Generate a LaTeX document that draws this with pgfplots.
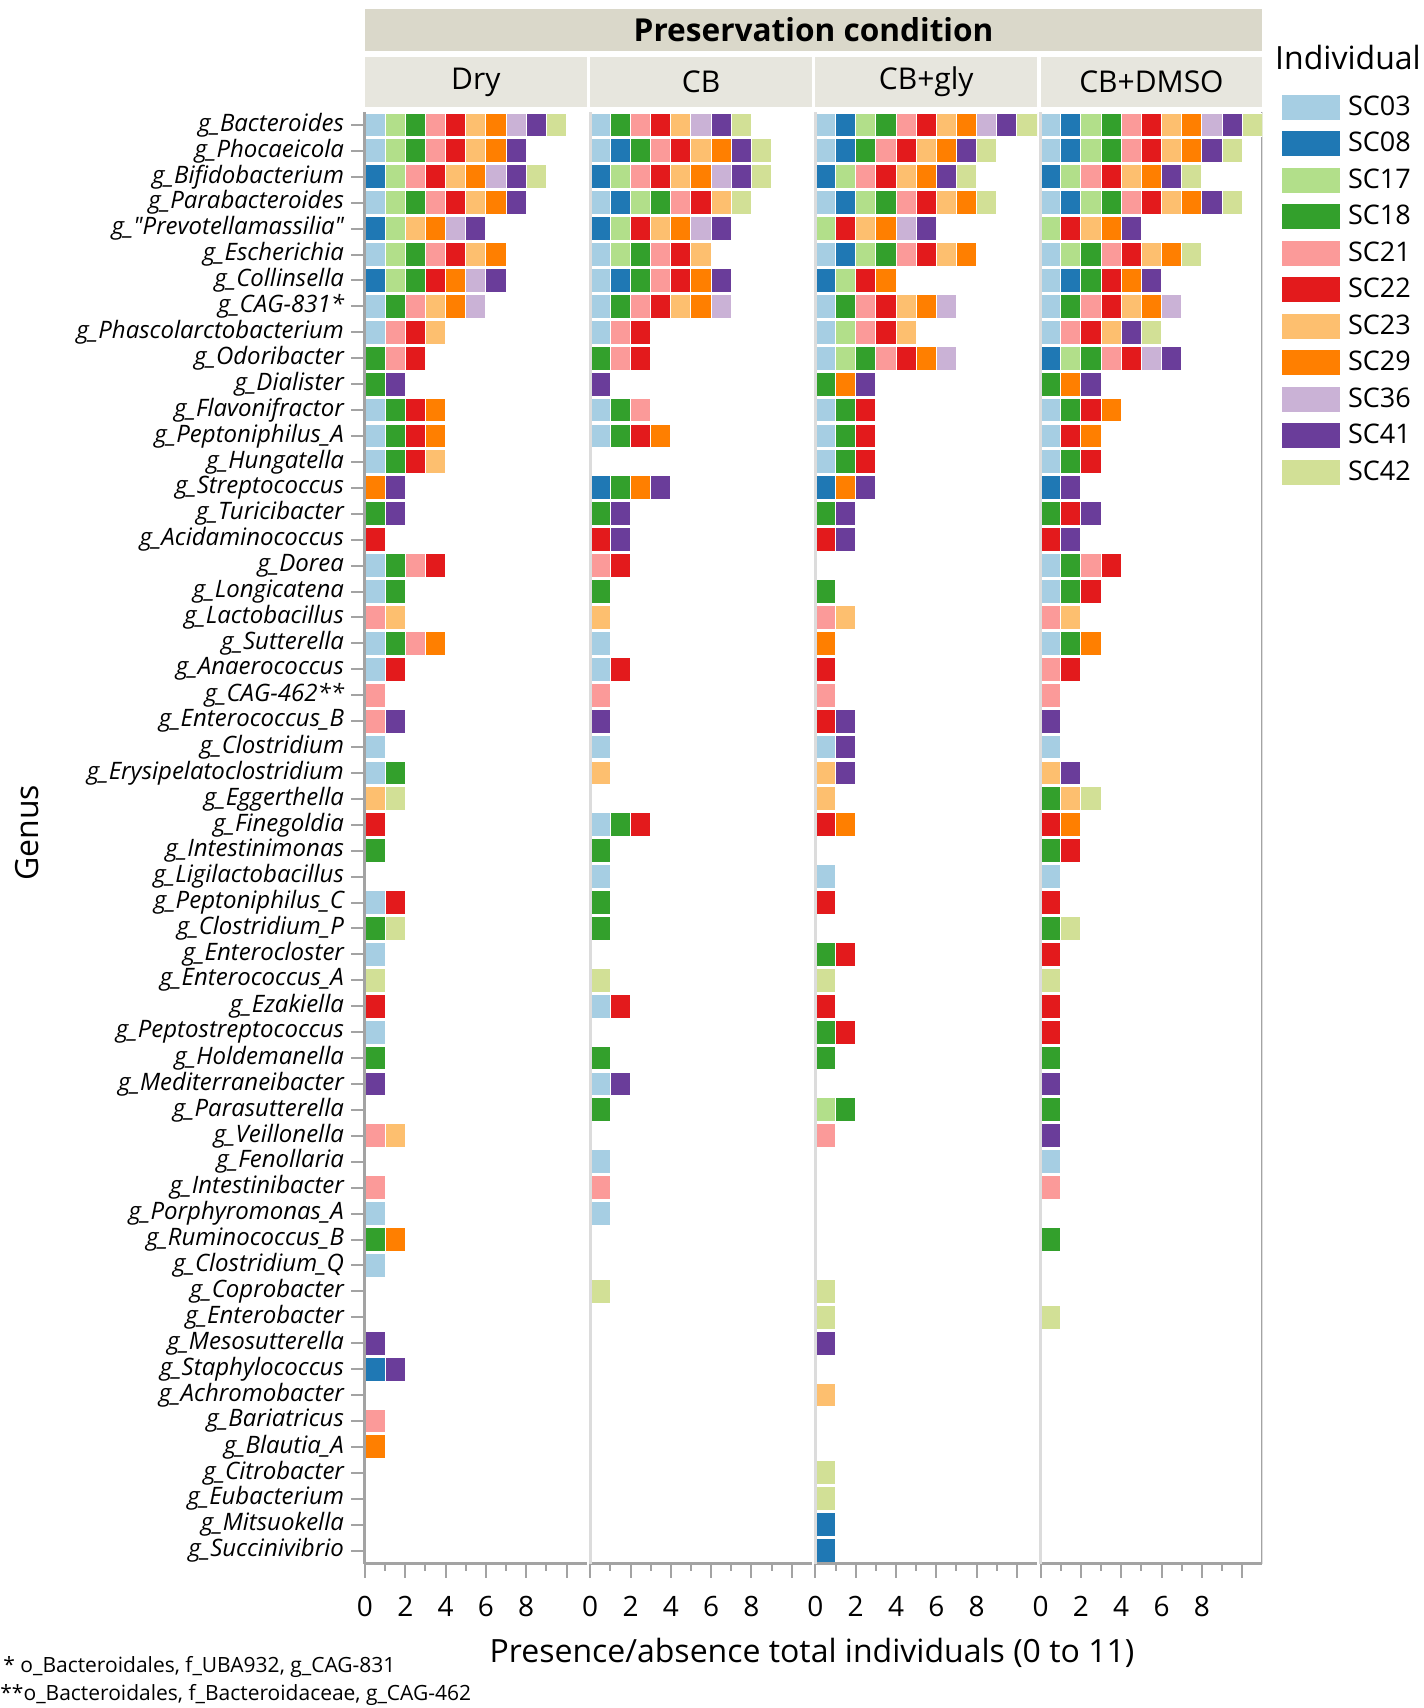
\documentclass[border=0pt]{standalone}
\usepackage{fontspec}
\setmainfont{Open Sans}[Ligatures=TeXOff]
\usepackage{pgfplots}
\usepackage{pgfplotstable}
\pgfplotsset{compat=1.18}

\definecolor{SC03}{HTML}{A6CEE3}
\definecolor{SC08}{HTML}{1F78B4}
\definecolor{SC17}{HTML}{B2DF8A}
\definecolor{SC18}{HTML}{33A02C}
\definecolor{SC21}{HTML}{FB9A99}
\definecolor{SC22}{HTML}{E31A1C}
\definecolor{SC23}{HTML}{FDBF6F}
\definecolor{SC29}{HTML}{FF7F00}
\definecolor{SC36}{HTML}{CAB2D6}
\definecolor{SC41}{HTML}{6A3D9A}
\definecolor{SC42}{HTML}{D2E096}
\definecolor{axgray}{HTML}{A3A3A3}
\definecolor{sepgray}{HTML}{DCDCDC}
\definecolor{band}{HTML}{DAD8CA}
\definecolor{phdr}{HTML}{E7E6DE}

\newcommand{\g}[1]{g\_#1}

% rows: y=56 is g_Bacteroides (top) ... y=1 is g_Succinivibrio (bottom)
\pgfplotstableread{
y SC03 SC08 SC17 SC18 SC21 SC22 SC23 SC29 SC36 SC41 SC42
56 1 0 1 1 1 1 1 1 1 1 1
55 1 0 1 1 1 1 1 1 0 1 0
54 0 1 1 0 1 1 1 1 1 1 1
53 1 0 1 1 1 1 1 1 0 1 0
52 0 1 1 0 0 0 1 1 1 1 0
51 1 0 1 1 1 1 1 1 0 0 0
50 0 1 1 1 0 1 0 1 1 1 0
49 1 0 0 1 1 0 1 1 1 0 0
48 1 0 0 0 1 1 1 0 0 0 0
47 0 0 0 1 1 1 0 0 0 0 0
46 0 0 0 1 0 0 0 0 0 1 0
45 1 0 0 1 0 1 0 1 0 0 0
44 1 0 0 1 0 1 0 1 0 0 0
43 1 0 0 1 0 1 1 0 0 0 0
42 0 0 0 0 0 0 0 1 0 1 0
41 0 0 0 1 0 0 0 0 0 1 0
40 0 0 0 0 0 1 0 0 0 0 0
39 1 0 0 1 1 1 0 0 0 0 0
38 1 0 0 1 0 0 0 0 0 0 0
37 0 0 0 0 1 0 1 0 0 0 0
36 1 0 0 1 1 0 0 1 0 0 0
35 1 0 0 0 0 1 0 0 0 0 0
34 0 0 0 0 1 0 0 0 0 0 0
33 0 0 0 0 1 0 0 0 0 1 0
32 1 0 0 0 0 0 0 0 0 0 0
31 1 0 0 1 0 0 0 0 0 0 0
30 0 0 0 0 0 0 1 0 0 0 1
29 0 0 0 0 0 1 0 0 0 0 0
28 0 0 0 1 0 0 0 0 0 0 0
27 0 0 0 0 0 0 0 0 0 0 0
26 1 0 0 0 0 1 0 0 0 0 0
25 0 0 0 1 0 0 0 0 0 0 1
24 1 0 0 0 0 0 0 0 0 0 0
23 0 0 0 0 0 0 0 0 0 0 1
22 0 0 0 0 0 1 0 0 0 0 0
21 1 0 0 0 0 0 0 0 0 0 0
20 0 0 0 1 0 0 0 0 0 0 0
19 0 0 0 0 0 0 0 0 0 1 0
18 0 0 0 0 0 0 0 0 0 0 0
17 0 0 0 0 1 0 1 0 0 0 0
16 0 0 0 0 0 0 0 0 0 0 0
15 0 0 0 0 1 0 0 0 0 0 0
14 1 0 0 0 0 0 0 0 0 0 0
13 0 0 0 1 0 0 0 1 0 0 0
12 1 0 0 0 0 0 0 0 0 0 0
11 0 0 0 0 0 0 0 0 0 0 0
10 0 0 0 0 0 0 0 0 0 0 0
9 0 0 0 0 0 0 0 0 0 1 0
8 0 1 0 0 0 0 0 0 0 1 0
7 0 0 0 0 0 0 0 0 0 0 0
6 0 0 0 0 1 0 0 0 0 0 0
5 0 0 0 0 0 0 0 1 0 0 0
4 0 0 0 0 0 0 0 0 0 0 0
3 0 0 0 0 0 0 0 0 0 0 0
2 0 0 0 0 0 0 0 0 0 0 0
1 0 0 0 0 0 0 0 0 0 0 0
}\dry

\pgfplotstableread{
y SC03 SC08 SC17 SC18 SC21 SC22 SC23 SC29 SC36 SC41 SC42
56 1 0 0 1 1 1 1 0 1 1 1
55 1 1 0 1 1 1 1 1 0 1 1
54 0 1 1 0 1 1 1 1 1 1 1
53 1 1 1 1 1 1 1 0 0 0 1
52 0 1 1 0 0 1 1 1 1 1 0
51 1 0 1 1 1 1 1 0 0 0 0
50 1 1 0 1 1 1 0 1 0 1 0
49 1 0 0 1 1 1 1 1 1 0 0
48 1 0 0 0 1 1 0 0 0 0 0
47 0 0 0 1 1 1 0 0 0 0 0
46 0 0 0 0 0 0 0 0 0 1 0
45 1 0 0 1 1 0 0 0 0 0 0
44 1 0 0 1 0 1 0 1 0 0 0
43 0 0 0 0 0 0 0 0 0 0 0
42 0 1 0 1 0 0 0 1 0 1 0
41 0 0 0 1 0 0 0 0 0 1 0
40 0 0 0 0 0 1 0 0 0 1 0
39 0 0 0 0 1 1 0 0 0 0 0
38 0 0 0 1 0 0 0 0 0 0 0
37 0 0 0 0 0 0 1 0 0 0 0
36 1 0 0 0 0 0 0 0 0 0 0
35 1 0 0 0 0 1 0 0 0 0 0
34 0 0 0 0 1 0 0 0 0 0 0
33 0 0 0 0 0 0 0 0 0 1 0
32 1 0 0 0 0 0 0 0 0 0 0
31 0 0 0 0 0 0 1 0 0 0 0
30 0 0 0 0 0 0 0 0 0 0 0
29 1 0 0 1 0 1 0 0 0 0 0
28 0 0 0 1 0 0 0 0 0 0 0
27 1 0 0 0 0 0 0 0 0 0 0
26 0 0 0 1 0 0 0 0 0 0 0
25 0 0 0 1 0 0 0 0 0 0 0
24 0 0 0 0 0 0 0 0 0 0 0
23 0 0 0 0 0 0 0 0 0 0 1
22 1 0 0 0 0 1 0 0 0 0 0
21 0 0 0 0 0 0 0 0 0 0 0
20 0 0 0 1 0 0 0 0 0 0 0
19 1 0 0 0 0 0 0 0 0 1 0
18 0 0 0 1 0 0 0 0 0 0 0
17 0 0 0 0 0 0 0 0 0 0 0
16 1 0 0 0 0 0 0 0 0 0 0
15 0 0 0 0 1 0 0 0 0 0 0
14 1 0 0 0 0 0 0 0 0 0 0
13 0 0 0 0 0 0 0 0 0 0 0
12 0 0 0 0 0 0 0 0 0 0 0
11 0 0 0 0 0 0 0 0 0 0 1
10 0 0 0 0 0 0 0 0 0 0 0
9 0 0 0 0 0 0 0 0 0 0 0
8 0 0 0 0 0 0 0 0 0 0 0
7 0 0 0 0 0 0 0 0 0 0 0
6 0 0 0 0 0 0 0 0 0 0 0
5 0 0 0 0 0 0 0 0 0 0 0
4 0 0 0 0 0 0 0 0 0 0 0
3 0 0 0 0 0 0 0 0 0 0 0
2 0 0 0 0 0 0 0 0 0 0 0
1 0 0 0 0 0 0 0 0 0 0 0
}\cb

\pgfplotstableread{
y SC03 SC08 SC17 SC18 SC21 SC22 SC23 SC29 SC36 SC41 SC42
56 1 1 1 1 1 1 1 1 1 1 1
55 1 1 0 1 1 1 1 1 0 1 1
54 0 1 1 0 1 1 1 1 0 1 1
53 1 1 1 1 1 1 1 1 0 0 1
52 0 0 1 0 0 1 1 1 1 1 0
51 1 1 1 1 1 1 1 1 0 0 0
50 0 1 1 0 0 1 0 1 0 0 0
49 1 0 0 1 1 1 1 1 1 0 0
48 1 0 1 0 1 1 1 0 0 0 0
47 1 0 1 1 1 1 0 1 1 0 0
46 0 0 0 1 0 0 0 1 0 1 0
45 1 0 0 1 0 1 0 0 0 0 0
44 1 0 0 1 0 1 0 0 0 0 0
43 1 0 0 1 0 1 0 0 0 0 0
42 0 1 0 0 0 0 0 1 0 1 0
41 0 0 0 1 0 0 0 0 0 1 0
40 0 0 0 0 0 1 0 0 0 1 0
39 0 0 0 0 0 0 0 0 0 0 0
38 0 0 0 1 0 0 0 0 0 0 0
37 0 0 0 0 1 0 1 0 0 0 0
36 0 0 0 0 0 0 0 1 0 0 0
35 0 0 0 0 0 1 0 0 0 0 0
34 0 0 0 0 1 0 0 0 0 0 0
33 0 0 0 0 0 1 0 0 0 1 0
32 1 0 0 0 0 0 0 0 0 1 0
31 0 0 0 0 0 0 1 0 0 1 0
30 0 0 0 0 0 0 1 0 0 0 0
29 0 0 0 0 0 1 0 1 0 0 0
28 0 0 0 0 0 0 0 0 0 0 0
27 1 0 0 0 0 0 0 0 0 0 0
26 0 0 0 0 0 1 0 0 0 0 0
25 0 0 0 0 0 0 0 0 0 0 0
24 0 0 0 1 0 1 0 0 0 0 0
23 0 0 0 0 0 0 0 0 0 0 1
22 0 0 0 0 0 1 0 0 0 0 0
21 0 0 0 1 0 1 0 0 0 0 0
20 0 0 0 1 0 0 0 0 0 0 0
19 0 0 0 0 0 0 0 0 0 0 0
18 0 0 1 1 0 0 0 0 0 0 0
17 0 0 0 0 1 0 0 0 0 0 0
16 0 0 0 0 0 0 0 0 0 0 0
15 0 0 0 0 0 0 0 0 0 0 0
14 0 0 0 0 0 0 0 0 0 0 0
13 0 0 0 0 0 0 0 0 0 0 0
12 0 0 0 0 0 0 0 0 0 0 0
11 0 0 0 0 0 0 0 0 0 0 1
10 0 0 0 0 0 0 0 0 0 0 1
9 0 0 0 0 0 0 0 0 0 1 0
8 0 0 0 0 0 0 0 0 0 0 0
7 0 0 0 0 0 0 1 0 0 0 0
6 0 0 0 0 0 0 0 0 0 0 0
5 0 0 0 0 0 0 0 0 0 0 0
4 0 0 0 0 0 0 0 0 0 0 1
3 0 0 0 0 0 0 0 0 0 0 1
2 0 1 0 0 0 0 0 0 0 0 0
1 0 1 0 0 0 0 0 0 0 0 0
}\gly

\pgfplotstableread{
y SC03 SC08 SC17 SC18 SC21 SC22 SC23 SC29 SC36 SC41 SC42
56 1 1 1 1 1 1 1 1 1 1 1
55 1 1 1 1 1 1 1 1 0 1 1
54 0 1 1 0 1 1 1 1 0 1 1
53 1 1 1 1 1 1 1 1 0 1 1
52 0 0 1 0 0 1 1 1 0 1 0
51 1 0 1 1 1 1 1 1 0 0 1
50 1 1 0 1 0 1 0 1 0 1 0
49 1 0 0 1 1 1 1 1 1 0 0
48 1 0 0 0 1 1 1 0 0 1 1
47 0 1 1 1 1 1 0 0 1 1 0
46 0 0 0 1 0 0 0 1 0 1 0
45 1 0 0 1 0 1 0 1 0 0 0
44 1 0 0 0 0 1 0 1 0 0 0
43 1 0 0 1 0 1 0 0 0 0 0
42 0 1 0 0 0 0 0 0 0 1 0
41 0 0 0 1 0 1 0 0 0 1 0
40 0 0 0 0 0 1 0 0 0 1 0
39 1 0 0 1 1 1 0 0 0 0 0
38 1 0 0 1 0 1 0 0 0 0 0
37 0 0 0 0 1 0 1 0 0 0 0
36 1 0 0 1 0 0 0 1 0 0 0
35 0 0 0 0 1 1 0 0 0 0 0
34 0 0 0 0 1 0 0 0 0 0 0
33 0 0 0 0 0 0 0 0 0 1 0
32 1 0 0 0 0 0 0 0 0 0 0
31 0 0 0 0 0 0 1 0 0 1 0
30 0 0 0 1 0 0 1 0 0 0 1
29 0 0 0 0 0 1 0 1 0 0 0
28 0 0 0 1 0 1 0 0 0 0 0
27 1 0 0 0 0 0 0 0 0 0 0
26 0 0 0 0 0 1 0 0 0 0 0
25 0 0 0 1 0 0 0 0 0 0 1
24 0 0 0 0 0 1 0 0 0 0 0
23 0 0 0 0 0 0 0 0 0 0 1
22 0 0 0 0 0 1 0 0 0 0 0
21 0 0 0 0 0 1 0 0 0 0 0
20 0 0 0 1 0 0 0 0 0 0 0
19 0 0 0 0 0 0 0 0 0 1 0
18 0 0 0 1 0 0 0 0 0 0 0
17 0 0 0 0 0 0 0 0 0 1 0
16 1 0 0 0 0 0 0 0 0 0 0
15 0 0 0 0 1 0 0 0 0 0 0
14 0 0 0 0 0 0 0 0 0 0 0
13 0 0 0 1 0 0 0 0 0 0 0
12 0 0 0 0 0 0 0 0 0 0 0
11 0 0 0 0 0 0 0 0 0 0 0
10 0 0 0 0 0 0 0 0 0 0 1
9 0 0 0 0 0 0 0 0 0 0 0
8 0 0 0 0 0 0 0 0 0 0 0
7 0 0 0 0 0 0 0 0 0 0 0
6 0 0 0 0 0 0 0 0 0 0 0
5 0 0 0 0 0 0 0 0 0 0 0
4 0 0 0 0 0 0 0 0 0 0 0
3 0 0 0 0 0 0 0 0 0 0 0
2 0 0 0 0 0 0 0 0 0 0 0
1 0 0 0 0 0 0 0 0 0 0 0
}\dmso

\pgfplotsset{panel/.style={
  xbar stacked, bar width=0.92,
  scale only axis, width=110.85pt, height=725.75pt,
  anchor=south west,
  xmin=0, xmax=11, ymin=0.5, ymax=56.5,
  axis x line*=bottom, axis y line*=left,
  x axis line style={draw=axgray, line width=1.5pt},
  y axis line style={draw=sepgray, line width=1.5pt},
  xtick={0,2,4,6,8,10}, xticklabels={0,2,4,6,8,{}},
  minor xtick={1,3,5,7,9},
  tick align=outside,
  major tick length=7pt, minor tick length=3.5pt,
  tick style={draw=axgray, line width=1pt},
  ytick=\empty,
  xticklabel style={font=\fontsize{14}{16}\selectfont, yshift=-6pt},
  /pgf/number format/assume math mode=true,
  axis on top,
  every axis plot/.append style={draw=white, line width=0.5pt},
}}

\newcommand{\bars}[1]{%
  \addplot[fill=SC03] table[x=SC03,y=y]{#1};
  \addplot[fill=SC08] table[x=SC08,y=y]{#1};
  \addplot[fill=SC17] table[x=SC17,y=y]{#1};
  \addplot[fill=SC18] table[x=SC18,y=y]{#1};
  \addplot[fill=SC21] table[x=SC21,y=y]{#1};
  \addplot[fill=SC22] table[x=SC22,y=y]{#1};
  \addplot[fill=SC23] table[x=SC23,y=y]{#1};
  \addplot[fill=SC29] table[x=SC29,y=y]{#1};
  \addplot[fill=SC36] table[x=SC36,y=y]{#1};
  \addplot[fill=SC41] table[x=SC41,y=y]{#1};
  \addplot[fill=SC42] table[x=SC42,y=y]{#1};
}

\begin{document}
\begin{tikzpicture}
\useasboundingbox (0pt,0pt) rectangle (712pt,854pt);

% header band and panel headers
\fill[band] (182.5pt,828.5pt) rectangle (631.15pt,849.5pt);
\node[font=\bfseries\fontsize{15.8}{18}\selectfont] at (406.8pt,839pt) {Preservation condition};
\fill[phdr] (182.5pt,800.5pt) rectangle (293.35pt,825.5pt);
\fill[phdr] (295.1pt,800.5pt) rectangle (405.95pt,825.5pt);
\fill[phdr] (407.7pt,800.5pt) rectangle (518.55pt,825.5pt);
\fill[phdr] (520.3pt,800.5pt) rectangle (631.15pt,825.5pt);
\node[font=\fontsize{15}{17}\selectfont] at (237.9pt,813pt) {Dry};
\node[font=\fontsize{15}{17}\selectfont] at (350.5pt,813pt) {CB};
\node[font=\fontsize{15}{17}\selectfont] at (463.1pt,813pt) {CB+gly};
\node[font=\fontsize{15}{17}\selectfont] at (575.7pt,813pt) {CB+DMSO};

% Dry
\begin{axis}[panel, at={(182.5pt,72.25pt)},
  y axis line style={draw=axgray, line width=1.5pt},
  ytick={1,...,56},
  yticklabel style={font=\itshape\fontsize{12}{14}\selectfont},
  yticklabels={\g{Succinivibrio},\g{Mitsuokella},\g{Eubacterium},\g{Citrobacter},\g{Blautia\_A},\g{Bariatricus},\g{Achromobacter},\g{Staphylococcus},\g{Mesosutterella},\g{Enterobacter},\g{Coprobacter},\g{Clostridium\_Q},\g{Ruminococcus\_B},\g{Porphyromonas\_A},\g{Intestinibacter},\g{Fenollaria},\g{Veillonella},\g{Parasutterella},\g{Mediterraneibacter},\g{Holdemanella},\g{Peptostreptococcus},\g{Ezakiella},\g{Enterococcus\_A},\g{Enterocloster},\g{Clostridium\_P},\g{Peptoniphilus\_C},\g{Ligilactobacillus},\g{Intestinimonas},\g{Finegoldia},\g{Eggerthella},\g{Erysipelatoclostridium},\g{Clostridium},\g{Enterococcus\_B},\g{CAG-462**},\g{Anaerococcus},\g{Sutterella},\g{Lactobacillus},\g{Longicatena},\g{Dorea},\g{Acidaminococcus},\g{Turicibacter},\g{Streptococcus},\g{Hungatella},\g{Peptoniphilus\_A},\g{Flavonifractor},\g{Dialister},\g{Odoribacter},\g{Phascolarctobacterium},\g{CAG-831*},\g{Collinsella},\g{Escherichia},\g{"Prevotellamassilia"},\g{Parabacteroides},\g{Bifidobacterium},\g{Phocaeicola},\g{Bacteroides}},
]
\bars{\dry}
\end{axis}

% CB
\begin{axis}[panel, at={(295.1pt,72.25pt)}]
\bars{\cb}
\end{axis}

% CB+gly
\begin{axis}[panel, at={(407.7pt,72.25pt)}]
\bars{\gly}
\end{axis}

% CB+DMSO
\begin{axis}[panel, at={(520.3pt,72.25pt)},
  legend style={at={(axis description cs:1.089,1.012)}, anchor=north west,
    draw=none, fill=none, inner sep=0pt, outer sep=0pt,
    font=\fontsize{13.5}{15}\selectfont, row sep=5.75pt,
    nodes={inner sep=0pt},
    /tikz/every odd column/.append style={column sep=4pt}},
  legend cell align=left,
  legend image code/.code={\fill[#1, draw=none] (0pt,-6.25pt) rectangle (29pt,6.25pt);},
]
\bars{\dmso}
\draw[axgray, line width=1.5pt] (rel axis cs:1,0) -- (rel axis cs:1,1);
\legend{SC03,SC08,SC17,SC18,SC21,SC22,SC23,SC29,SC36,SC41,SC42}
\end{axis}

\node[font=\fontsize{16}{18}\selectfont] at (674pt,825pt) {Individual};
\node[font=\fontsize{16}{18}\selectfont] at (406pt,27.5pt) {Presence/absence total individuals (0 to 11)};
\node[font=\fontsize{16}{18}\selectfont, rotate=90] at (13.5pt,437.5pt) {Genus};
\node[font=\fontsize{10.5}{12}\selectfont, anchor=west, inner sep=0pt] at (1.5pt,20.5pt) {* o\_Bacteroidales, f\_UBA932, g\_CAG-831};
\node[font=\fontsize{10.5}{12}\selectfont, anchor=west, inner sep=0pt] at (0pt,6.5pt) {**o\_Bacteroidales, f\_Bacteroidaceae, g\_CAG-462};
\end{tikzpicture}
\end{document}
